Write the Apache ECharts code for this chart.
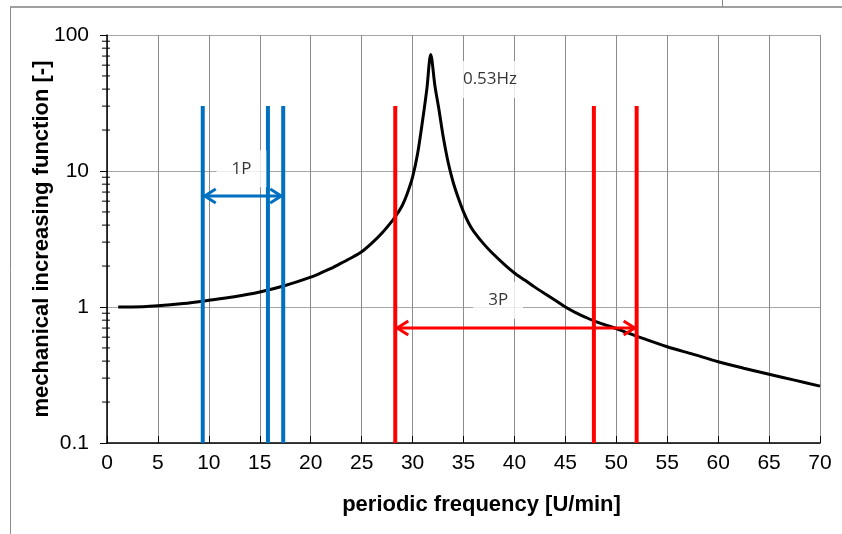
<!DOCTYPE html>
<html>
<head>
<meta charset="utf-8">
<script src="https://cdn.jsdelivr.net/npm/echarts@6/dist/echarts.min.js"></script>
<style>
  html, body { margin: 0; padding: 0; background: #fff; }
  #chart { width: 842px; height: 534px; }
</style>
</head>
<body>
<div id="chart"></div>
<script>
// curve: [frequency U/min, factor]
const curveX = [1.1, 2.5, 5, 7.5, 10, 12.5, 15, 17.5, 20, 21, 22, 23, 24, 25, 26, 27, 28, 28.5, 29, 29.5,
  30, 30.5, 31, 31.4, 31.78, 32.2, 32.6, 33.0, 33.5, 34.0, 34.5, 35, 35.5, 36, 37, 38, 39, 40, 41, 42,
  43, 44, 45, 46, 47, 48, 49, 50, 51, 52, 55, 57.5, 60, 62.5, 65, 67.5, 70]
const curveY = [1.0, 1.0, 1.02, 1.06, 1.12, 1.19, 1.29, 1.44, 1.66, 1.78, 1.92, 2.1, 2.3, 2.55, 2.95, 3.5, 4.3, 4.85, 5.6, 6.9,
  9.0, 13.5, 24, 40, 72, 42, 28, 18, 11.5, 8.2, 6.3, 5.0, 4.15, 3.6, 2.9, 2.42, 2.06, 1.78, 1.58, 1.4,
  1.25, 1.12, 1.0, 0.91, 0.84, 0.78, 0.735, 0.695, 0.65, 0.61, 0.51, 0.45, 0.396, 0.355, 0.32, 0.29, 0.262]

// excitation bands
const onePX = [9.4, 15.8, 17.3]
const threePX = [28.3, 47.8, 52.0]
const barBottom = 0.1
const barTop = 30

// arrows: [from, to, level]
const oneParrow = [9.4, 17.3, 6.55]
const threeParrow = [28.3, 52.0, 0.7]

// labels: [x, y, text]
const notes = [
  [13.2, 10.4, '1P'],
  [38.4, 1.12, '3P'],
  [37.6, 47, '0.53Hz']
]

const xTicks = [0, 70, 5]
const yMinor = [0.2, 0.3, 0.4, 0.5, 0.6, 0.7, 0.8, 0.9, 2, 3, 4, 5, 6, 7, 8, 9, 20, 30, 40, 50, 60, 70, 80, 90]

const blue = '#0070C0'
const red = '#FF0000'

const chart = echarts.init(document.getElementById('chart'))

function bar(x, color, z) {
  return {
    type: 'line',
    data: [[x, barBottom], [x, barTop]],
    symbol: 'none',
    z: z,
    lineStyle: { color: color, width: 4, cap: 'butt' },
    silent: true
  }
}

function arrowSeries(a, color, z) {
  return {
    type: 'custom',
    z: z,
    silent: true,
    data: [a],
    renderItem: function (params, api) {
      const p1 = api.coord([api.value(0), api.value(2)])
      const p2 = api.coord([api.value(1), api.value(2)])
      const st = { stroke: color, lineWidth: 3, fill: null }
      const hw = 11, hh = 7
      return {
        type: 'group',
        children: [
          { type: 'line', shape: { x1: p1[0] + 2, y1: p1[1], x2: p2[0] - 2, y2: p2[1] }, style: st },
          { type: 'polyline', shape: { points: [[p1[0] + 2 + hw, p1[1] - hh], [p1[0] + 2, p1[1]], [p1[0] + 2 + hw, p1[1] + hh]] }, style: st },
          { type: 'polyline', shape: { points: [[p2[0] - 2 - hw, p2[1] - hh], [p2[0] - 2, p2[1]], [p2[0] - 2 - hw, p2[1] + hh]] }, style: st }
        ]
      }
    }
  }
}

const series = [
  {
    type: 'line',
    data: curveX.map((x, i) => [x, curveY[i]]),
    symbol: 'none',
    smooth: 0.3,
    z: 2,
    lineStyle: { color: '#000', width: 3 }
  },
  {
    // log minor ticks
    type: 'custom',
    z: 4,
    silent: true,
    clip: false,
    data: yMinor.map(v => [0, v]),
    renderItem: function (params, api) {
      const p = api.coord([api.value(0), api.value(1)])
      return {
        type: 'line',
        shape: { x1: p[0] - 5, y1: p[1], x2: p[0] + 3, y2: p[1] },
        style: { stroke: '#000', lineWidth: 1 }
      }
    }
  },
  bar(onePX[0], blue, 2),
  bar(onePX[1], blue, 2),
  bar(onePX[2], blue, 6),
  bar(threePX[0], red, 2),
  bar(threePX[1], red, 2),
  bar(threePX[2], red, 2),
  {
    type: 'scatter',
    z: 3,
    silent: true,
    symbolSize: 0,
    data: notes.map(n => ({ value: [n[0], n[1]], name: n[2] })),
    label: {
      show: true,
      position: 'inside',
      formatter: '{b}',
      color: '#000',
      fontFamily: 'Open Sans',
      fontSize: 17,
      backgroundColor: '#fff',
      padding: [10, 15]
    }
  },
  arrowSeries(oneParrow, blue, 6),
  arrowSeries(threeParrow, red, 6)
]

chart.setOption({
  animation: false,
  backgroundColor: '#fff',
  grid: { left: 107, right: 22, top: 35, bottom: 91 },
  xAxis: {
    type: 'value',
    min: xTicks[0],
    max: xTicks[1],
    interval: xTicks[2],
    name: 'periodic frequency [U/min]',
    nameLocation: 'middle',
    nameGap: 51,
    nameTextStyle: { fontFamily: 'Liberation Sans', fontSize: 22, fontWeight: 'bold', color: '#000',
      padding: [0, 0, 0, 36] },
    axisLine: { lineStyle: { color: '#000', width: 1.5 } },
    axisTick: { show: true, inside: true, length: 7, lineStyle: { color: '#000' } },
    axisLabel: { fontFamily: 'Liberation Sans', fontSize: 21, color: '#000', margin: 10 },
    splitLine: { show: true, lineStyle: { color: '#8c8c8c', width: 1 } }
  },
  yAxis: {
    type: 'log',
    logBase: 10,
    min: 0.1,
    max: 100,
    name: 'mechanical increasing function [-]',
    nameLocation: 'middle',
    nameGap: 54,
    nameMoveOverlap: false,
    nameTextStyle: { fontFamily: 'Liberation Sans', fontSize: 22, fontWeight: 'bold', color: '#000' },
    axisLine: { show: true, lineStyle: { color: '#000', width: 1.5 } },
    axisTick: { show: true, length: 7, lineStyle: { color: '#000' } },
    axisLabel: { fontFamily: 'Liberation Sans', fontSize: 21, color: '#000', margin: 18,
      formatter: v => String(+v.toPrecision(3)) },
    splitLine: { show: true, lineStyle: { color: '#a6a6a6', width: 1 } }
  },
  graphic: [
    { type: 'line', shape: { x1: 10, y1: 7, x2: 842, y2: 7 }, style: { stroke: '#a0a0a0', lineWidth: 2 } },
    { type: 'line', shape: { x1: 10.5, y1: 7, x2: 10.5, y2: 534 }, style: { stroke: '#8a8a8a', lineWidth: 1 } },
    { type: 'line', shape: { x1: 722.5, y1: 0, x2: 722.5, y2: 7 }, style: { stroke: '#8a8a8a', lineWidth: 1 } }
  ],
  series: series
})
</script>
</body>
</html>
